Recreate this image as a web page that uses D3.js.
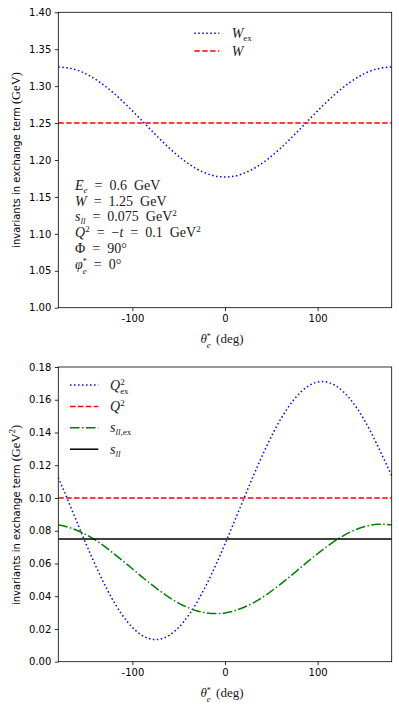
<!DOCTYPE html>
<html><head><meta charset="utf-8">
<script src="https://cdn.jsdelivr.net/npm/d3@7"></script>
<style>body{margin:0;background:#fff} svg{display:block}</style>
</head><body><svg id="c" width="399" height="707"></svg>
<script>
// ---- data ----
const theta = [-180,-165,-150,-135,-120,-105,-90,-75,-60,-45,-30,-15,0,15,30,45,60,75,90,105,120,135,150,165,180];
const W_ex = [1.3260,1.3236,1.3166,1.3052,1.2904,1.2728,1.2537,1.2343,1.2160,1.2000,1.1876,1.1797,1.1770,1.1797,1.1876,1.2000,1.2160,1.2343,1.2537,1.2728,1.2904,1.3052,1.3166,1.3236,1.3260];
const W_const = 1.25;
const Q2_ex = [0.1125,0.0923,0.0719,0.0529,0.0366,0.0241,0.0162,0.0135,0.0162,0.0241,0.0366,0.0529,0.0719,0.0923,0.1127,0.1317,0.1480,0.1605,0.1684,0.1711,0.1684,0.1605,0.1480,0.1317,0.1135];
const Q2_const = 0.1;
const sll_ex = [0.0836,0.0814,0.0776,0.0724,0.0660,0.0591,0.0520,0.0452,0.0392,0.0343,0.0310,0.0295,0.0298,0.0320,0.0358,0.0410,0.0474,0.0543,0.0614,0.0682,0.0742,0.0791,0.0824,0.0839,0.0836];
const sll_const = 0.075;
const xDomain = [-180,180];
const xTicks = [-100,0,100];
const yTicksTop = [1.00,1.05,1.10,1.15,1.20,1.25,1.30,1.35,1.40];
const yTicksBottom = [0.00,0.02,0.04,0.06,0.08,0.10,0.12,0.14,0.16,0.18];

// ---- styles ----
const SANS = "DejaVu Sans";
const SERIF = "Liberation Serif";
const styles = {
  dotted: {color:"#0000ff", dash:"1.5,2.5"},
  dashed: {color:"#ff0000", dash:"5.5,2.4"},
  dashdot: {color:"#008000", dash:"9.6,2.4,1.5,2.4"},
  solid: {color:"#000000", dash:null}
};

const svg = d3.select("#c");
const L = 58.3, R = 391.7;
const x = d3.scaleLinear().domain(xDomain).range([L, R]);

function mtext(g, xx, yy, parts, size, anchor, ws) {
  const t = g.append("text").attr("x", xx).attr("y", yy)
    .attr("font-family", SERIF).attr("font-size", size).attr("fill", "#1a1a1a");
  if (anchor) t.attr("text-anchor", anchor);
  if (ws) t.attr("word-spacing", ws);
  parts.forEach(p => {
    const s = t.append("tspan").text(p.t);
    if (p.i) s.attr("font-style", "italic");
    if (p.fs) s.attr("font-size", p.fs);
    if (p.dy) s.attr("dy", p.dy);
    if (p.dx) s.attr("dx", p.dx);
  });
  return t;
}

function panel(top, bottom, yDomain, yTicks, series, hlines, id) {
  const y = d3.scaleLinear().domain(yDomain).range([bottom, top]);
  const g = svg.append("g");
  g.append("clipPath").attr("id", "clip" + id).append("rect")
    .attr("x", L).attr("y", top).attr("width", R - L).attr("height", bottom - top);
  const plot = g.append("g").attr("clip-path", `url(#clip${id})`);
  const line = d3.line().x(d => x(d[0])).y(d => y(d[1])).curve(d3.curveNatural);
  series.forEach(s => {
    const st = styles[s.style];
    plot.append("path").datum(theta.map((t, i) => [t, s.values[i]]))
      .attr("d", line).attr("fill", "none").attr("stroke", st.color)
      .attr("stroke-width", 1.5).attr("stroke-dasharray", st.dash);
  });
  hlines.forEach(h => {
    const st = styles[h.style];
    plot.append("path").datum([[xDomain[0], h.value], [xDomain[1], h.value]])
      .attr("d", d3.line().x(d => x(d[0])).y(d => y(d[1])))
      .attr("fill", "none").attr("stroke", st.color)
      .attr("stroke-width", 1.5).attr("stroke-dasharray", st.dash);
  });
  const xa = g.append("g").attr("transform", `translate(0,${bottom})`)
    .call(d3.axisBottom(x).tickValues(xTicks).tickFormat(d => String(d)).tickSize(3.5).tickPadding(3.5).tickSizeOuter(0));
  const ya = g.append("g").attr("transform", `translate(${L},0)`)
    .call(d3.axisLeft(y).tickValues(yTicks).tickFormat(d3.format(".2f")).tickSize(3.5).tickPadding(3.5).tickSizeOuter(0));
  [xa, ya].forEach(a => {
    a.select(".domain").remove();
    a.selectAll("text").attr("font-family", SANS).attr("font-size", 10).attr("fill", "#000");
    a.selectAll("line").attr("stroke", "#000").attr("stroke-width", 0.8);
  });
  g.append("rect").attr("x", L).attr("y", top).attr("width", R - L).attr("height", bottom - top)
    .attr("fill", "none").attr("stroke", "#000").attr("stroke-width", 0.8);
  mtext(g, 222, bottom + 35.5, [
    {t:"θ", i:true},
    {t:"*", fs:8, dy:-4.5},
    {t:"e", i:true, fs:9, dx:-4, dy:9.5},
    {t:" (deg)", dy:-5}
  ], 13, "middle", 2);
  return {g, y};
}

// ---- top panel ----
const P1 = panel(12.3, 307.7, [1.0, 1.4], yTicksTop,
  [{values: W_ex, style: "dotted"}],
  [{value: W_const, style: "dashed"}], 1);
{
  const t = P1.g.append("text").attr("transform", "translate(20,160) rotate(-90)")
    .attr("text-anchor", "middle").attr("fill", "#000");
  t.append("tspan").attr("font-family", SANS).attr("font-size", 10).text("invariants in exchange term ");
  t.append("tspan").attr("font-family", SERIF).attr("font-size", 12.5).text("(GeV)");
  const lg = [{lab:[{t:"W", i:true},{t:"ex", fs:9, dy:3}], style:"dotted"},
              {lab:[{t:"W", i:true}], style:"dashed"}];
  lg.forEach((d, i) => {
    const yy = 33.3 + i * 17.7;
    const st = styles[d.style];
    P1.g.append("line").attr("x1", 194.3).attr("x2", 219.3).attr("y1", yy).attr("y2", yy)
      .attr("stroke", st.color).attr("stroke-width", 1.5).attr("stroke-dasharray", st.dash);
    mtext(P1.g, 231.7, yy + 4.5, d.lab, 14);
  });
  const ann = [
    [{t:"E", i:true},{t:"e", i:true, fs:9, dy:3},{t:" = 0.6 GeV", dy:-3}],
    [{t:"W", i:true},{t:" = 1.25 GeV"}],
    [{t:"s", i:true},{t:"ll", i:true, fs:9, dy:3},{t:" = 0.075 GeV", dy:-3},{t:"2", fs:9, dy:-5}],
    [{t:"Q", i:true},{t:"2", fs:9, dy:-5},{t:" = −", dy:5},{t:"t", i:true},{t:" = 0.1 GeV"},{t:"2", fs:9, dy:-5}],
    [{t:"Φ = 90°"}],
    [{t:"φ", i:true},{t:"*", fs:8, dy:-4.5},{t:"e", i:true, fs:9, dx:-4, dy:9.5},{t:" = 0°", dy:-5}]
  ];
  ann.forEach((parts, i) => mtext(P1.g, 75, 190 + i * 15.7, parts, 14, null, 3.5));
}

// ---- bottom panel ----
const P2 = panel(367, 661.7, [0, 0.18], yTicksBottom,
  [{values: Q2_ex, style: "dotted"}, {values: sll_ex, style: "dashdot"}],
  [{value: Q2_const, style: "dashed"}, {value: sll_const, style: "solid"}], 2);
{
  const t = P2.g.append("text").attr("transform", "translate(20,515) rotate(-90)")
    .attr("text-anchor", "middle").attr("fill", "#000");
  t.append("tspan").attr("font-family", SANS).attr("font-size", 10).text("invariants in exchange term ");
  t.append("tspan").attr("font-family", SERIF).attr("font-size", 12.5).text("(GeV");
  t.append("tspan").attr("font-family", SERIF).attr("font-size", 9).attr("dy", -5).text("2");
  t.append("tspan").attr("font-family", SERIF).attr("font-size", 12.5).attr("dy", 5).text(")");
  const lg = [
    {lab:[{t:"Q", i:true},{t:"2", fs:9, dy:-5},{t:"ex", fs:9, dx:-4.5, dy:9}], style:"dotted"},
    {lab:[{t:"Q", i:true},{t:"2", fs:9, dy:-5}], style:"dashed"},
    {lab:[{t:"s", i:true},{t:"ll,", i:true, fs:9, dy:3},{t:"ex", fs:9}], style:"dashdot"},
    {lab:[{t:"s", i:true},{t:"ll", i:true, fs:9, dy:3}], style:"solid"}
  ];
  lg.forEach((d, i) => {
    const yy = 385 + i * 21.4;
    const st = styles[d.style];
    P2.g.append("line").attr("x1", 70).attr("x2", 98.3).attr("y1", yy).attr("y2", yy)
      .attr("stroke", st.color).attr("stroke-width", 1.5).attr("stroke-dasharray", st.dash);
    mtext(P2.g, 110, yy + 4.5, d.lab, 14);
  });
}
</script></body></html>
